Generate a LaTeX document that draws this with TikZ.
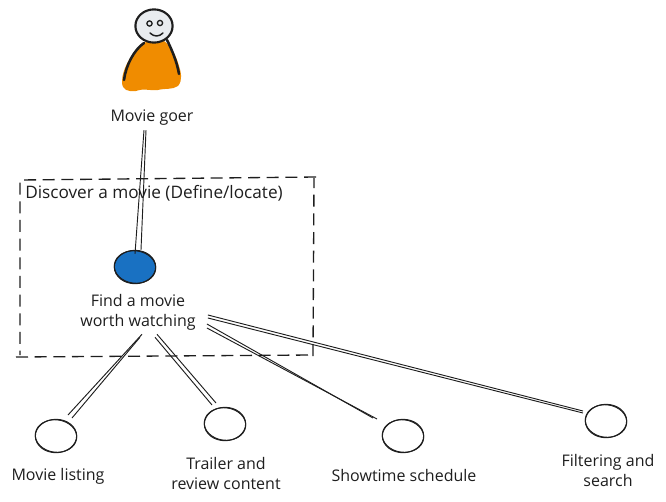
\documentclass[tikz,border=0pt]{standalone}
\usepackage{fontspec}
\setmainfont{Open Sans}
\usetikzlibrary{shapes.geometric}
\definecolor{inkcol}{HTML}{1E1E1E}
\definecolor{orangecol}{HTML}{F08C00}
\definecolor{bluecol}{HTML}{1971C2}
\definecolor{headcol}{HTML}{E9ECEF}
\tikzset{
  sketchline/.style={draw=inkcol,line width=0.7pt},
  sketchcircle/.style={ellipse,draw=inkcol,line width=0.8pt,inner sep=0pt,minimum width=31pt,minimum height=25pt},
  sketchtext/.style={inner sep=0.75pt,align=center,text=inkcol,font=\fontsize{12}{15}\selectfont},
  dashbox/.style={draw=inkcol,line width=1pt,dash pattern=on 9pt off 5pt}
}
\begin{document}
\begin{tikzpicture}[x=0.75pt,y=0.75pt,yscale=-1,xscale=1]
\useasboundingbox (0,0) rectangle (666,502);

% Person
\fill[orangecol] (146,42) .. controls (133,50) and (122,68) .. (122,82) .. controls (122,90) and (128,92) .. (136,91) .. controls (144,88) and (150,91) .. (158,90) .. controls (166,88) and (172,90) .. (178,86) .. controls (183,80) and (181,72) .. (179,66) .. controls (176,55) and (170,45) .. (164,41) -- cycle;
\draw[inkcol,line width=1.9pt,line cap=round] (124,80) .. controls (126,65) and (134,50) .. (144,43);
\draw[inkcol,line width=1.9pt,line cap=round] (167,40) .. controls (172,50) and (177,62) .. (179,74);
\draw[inkcol,line width=1.6pt,fill=headcol] (154,26) ellipse (18.6 and 16.6);
\draw[inkcol,line width=1pt] (149.5,23.5) circle (2.6);
\draw[inkcol,line width=1pt] (160,23) circle (2.6);
\draw[inkcol,line width=1.1pt,line cap=round] (150,33) .. controls (154,37) and (159,37) .. (163,33);

% Dashed Box
\draw[dashbox] (16,357) -- (312,355);
\draw[dashbox] (313,356) -- (314,178);
\draw[dashbox] (316,177) -- (20,180) -- (20,355);

% Text Node
\node[sketchtext] (goer) at (152,118) {Movie goer};
% Text Node
\node[sketchtext,anchor=west,font=\fontsize{12.9}{15}\selectfont] (discover) at (24,193) {Discover a movie (Define/locate)};
% Text Node
\node[sketchtext] (find) at (138,312) {Find a movie\\worth watching};
% Text Node
\node[sketchtext] (listingtext) at (58,476.5) {Movie listing};
% Text Node
\node[sketchtext] (trailertext) at (226,473) {Trailer and\\review content};
% Text Node
\node[sketchtext] (showtimetext) at (404,475.5) {Showtime schedule};
% Text Node
\node[sketchtext] (filteringtext) at (608,470.5) {Filtering and\\search};

% Circles
\node[sketchcircle,fill=bluecol] (findcircle) at (135,267) {};
\node[sketchcircle] (listing) at (56,436) {};
\node[sketchcircle] (trailer) at (225,424) {};
\node[sketchcircle] (showtime) at (403,436) {};
\node[sketchcircle] (filtering) at (606,421) {};
\foreach \c in {findcircle,listing,trailer,showtime,filtering}
  \draw[sketchline,rotate around={7:(\c.center)}] (\c.center) ellipse (20.8 and 16.2);

%Straight Lines
\draw[sketchline] ([shift={(-8,3)}]goer.south) -- ([shift={(0,4)}]findcircle.north);
\draw[sketchline] ([shift={(-6,3)}]goer.south) -- ([shift={(6,0)}]findcircle.north);
\draw[sketchline] ([shift={(4,3)}]find.south) -- ([shift={(12,-21)}]listing.center);
\draw[sketchline] ([shift={(2,6)}]find.south) -- ([shift={(16,-18)}]listing.center);
\draw[sketchline] ([shift={(17,6)}]find.south) -- ([shift={(-13,-19)}]trailer.center);
\draw[sketchline] ([shift={(19,3)}]find.south) -- ([shift={(-9,-21)}]trailer.center);
\draw[sketchline] ([shift={(10,12)}]find.east) -- ([shift={(-30,-18)}]showtime.center);
\draw[sketchline] ([shift={(10,16)}]find.east) -- ([shift={(-26,-17)}]showtime.center);
\draw[sketchline] ([shift={(11,3)}]find.east) -- ([shift={(-23,-10)}]filtering.center);
\draw[sketchline] ([shift={(11,6)}]find.east) -- ([shift={(-23,-8)}]filtering.center);
\end{tikzpicture}
\end{document}
